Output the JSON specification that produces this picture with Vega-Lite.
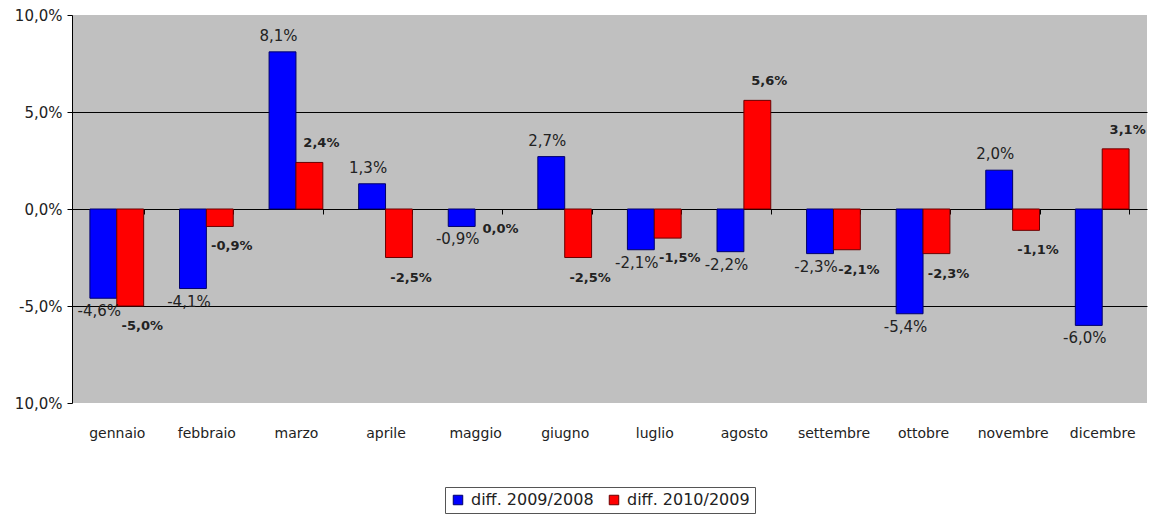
{
  "$schema": "https://vega.github.io/schema/vega-lite/v6.json",
  "autosize": "none",
  "width": 1075,
  "height": 388,
  "padding": {"left": 72, "top": 15, "right": 2, "bottom": 114},
  "background": "white",
  "config": {
    "view": {"fill": "#c0c0c0", "stroke": null},
    "font": "DejaVu Sans"
  },
  "data": {
    "values": [
      {"mese": "gennaio", "serie": "diff. 2009/2008", "v": -4.6},
      {"mese": "gennaio", "serie": "diff. 2010/2009", "v": -5.0},
      {"mese": "febbraio", "serie": "diff. 2009/2008", "v": -4.1},
      {"mese": "febbraio", "serie": "diff. 2010/2009", "v": -0.9},
      {"mese": "marzo", "serie": "diff. 2009/2008", "v": 8.1},
      {"mese": "marzo", "serie": "diff. 2010/2009", "v": 2.4},
      {"mese": "aprile", "serie": "diff. 2009/2008", "v": 1.3},
      {"mese": "aprile", "serie": "diff. 2010/2009", "v": -2.5},
      {"mese": "maggio", "serie": "diff. 2009/2008", "v": -0.9},
      {"mese": "maggio", "serie": "diff. 2010/2009", "v": 0.0},
      {"mese": "giugno", "serie": "diff. 2009/2008", "v": 2.7},
      {"mese": "giugno", "serie": "diff. 2010/2009", "v": -2.5},
      {"mese": "luglio", "serie": "diff. 2009/2008", "v": -2.1},
      {"mese": "luglio", "serie": "diff. 2010/2009", "v": -1.5},
      {"mese": "agosto", "serie": "diff. 2009/2008", "v": -2.2},
      {"mese": "agosto", "serie": "diff. 2010/2009", "v": 5.6},
      {"mese": "settembre", "serie": "diff. 2009/2008", "v": -2.3},
      {"mese": "settembre", "serie": "diff. 2010/2009", "v": -2.1},
      {"mese": "ottobre", "serie": "diff. 2009/2008", "v": -5.4},
      {"mese": "ottobre", "serie": "diff. 2010/2009", "v": -2.3},
      {"mese": "novembre", "serie": "diff. 2009/2008", "v": 2.0},
      {"mese": "novembre", "serie": "diff. 2010/2009", "v": -1.1},
      {"mese": "dicembre", "serie": "diff. 2009/2008", "v": -6.0},
      {"mese": "dicembre", "serie": "diff. 2010/2009", "v": 3.1}
    ]
  },
  "transform": [
    {"calculate": "(datum.v < 0 ? '-' : '') + replace(format(abs(datum.v), '.1f'), '.', ',') + '%'", "as": "etichetta"}
  ],
  "encoding": {
    "x": {
      "field": "mese",
      "type": "nominal",
      "sort": null,
      "scale": {"paddingInner": 0.4, "paddingOuter": 0.2},
      "axis": {
        "title": null,
        "offset": -194,
        "domain": false,
        "tickBand": "extent",
        "tickSize": 5,
        "tickColor": "black",
        "labelPadding": 212,
        "labelFontSize": 14,
        "labelColor": "#222222",
        "labelAngle": 0,
        "grid": false
      }
    },
    "xOffset": {"field": "serie", "type": "nominal", "sort": ["diff. 2009/2008", "diff. 2010/2009"], "scale": {"domain": ["diff. 2009/2008", "diff. 2010/2009"]}},
    "y": {
      "field": "v",
      "type": "quantitative",
      "scale": {"domain": [-10, 10], "nice": false},
      "axis": {
        "title": null,
        "values": [-10, -5, 0, 5, 10],
        "domainColor": "black",
        "tickColor": "black",
        "tickSize": 5,
        "labelPadding": 5,
        "labelFontSize": 15,
        "labelColor": "#222222",
        "labelExpr": "datum.value == -10 ? '10,0%' : (datum.value < 0 ? '-' : '') + replace(format(abs(datum.value), '.1f'), '.', ',') + '%'",
        "grid": true,
        "gridColor": {"condition": {"test": "abs(datum.value) == 10", "value": "transparent"}, "value": "black"},
        "gridWidth": 1
      }
    }
  },
  "layer": [
    {
      "transform": [{"filter": "datum.v != 0"}],
      "mark": {"type": "bar", "strokeWidth": 1},
      "encoding": {
        "color": {
          "field": "serie",
          "type": "nominal",
          "scale": {"domain": ["diff. 2009/2008", "diff. 2010/2009"], "range": ["#0000ff", "#ff0000"]},
          "legend": {
            "title": null,
            "orient": "none",
            "legendX": 373,
            "legendY": 472,
            "direction": "horizontal",
            "fillColor": "white",
            "strokeColor": "#555555",
            "padding": 5,
            "symbolType": "square",
            "symbolSize": 90,
            "symbolStrokeWidth": 1,
            "labelFontSize": 16,
            "labelColor": "#222222",
            "columnPadding": 12,
            "labelOffset": 5,
            "labelLimit": 300
          }
        },
        "stroke": {
          "field": "serie",
          "type": "nominal",
          "scale": {"domain": ["diff. 2009/2008", "diff. 2010/2009"], "range": ["#00006a", "#6a0000"]},
          "legend": {
            "title": null,
            "orient": "none",
            "legendX": 373,
            "legendY": 472,
            "direction": "horizontal",
            "fillColor": "white",
            "strokeColor": "#555555",
            "padding": 5,
            "symbolType": "square",
            "symbolSize": 90,
            "symbolStrokeWidth": 1,
            "labelFontSize": 16,
            "labelColor": "#222222",
            "columnPadding": 12,
            "labelOffset": 5,
            "labelLimit": 300
          }
        }
      }
    },
    {
      "transform": [{"filter": "datum.serie == 'diff. 2009/2008'"}],
      "mark": {
        "type": "text",
        "fontSize": 15,
        "color": "#222222",
        "dx": -4,
        "baseline": {"expr": "datum.v < 0 ? 'top' : 'bottom'"},
        "dy": {"expr": "datum.v < 0 ? 6 : -8"}
      },
      "encoding": {"text": {"field": "etichetta"}}
    },
    {
      "transform": [{"filter": "datum.serie == 'diff. 2010/2009'"}],
      "mark": {
        "type": "text",
        "fontSize": 13,
        "fontWeight": "bold",
        "color": "#222222",
        "dx": 12,
        "baseline": {"expr": "datum.v <= 0 ? 'top' : 'bottom'"},
        "dy": {"expr": "datum.v <= 0 ? 14 : -12"}
      },
      "encoding": {"text": {"field": "etichetta"}}
    }
  ]
}
